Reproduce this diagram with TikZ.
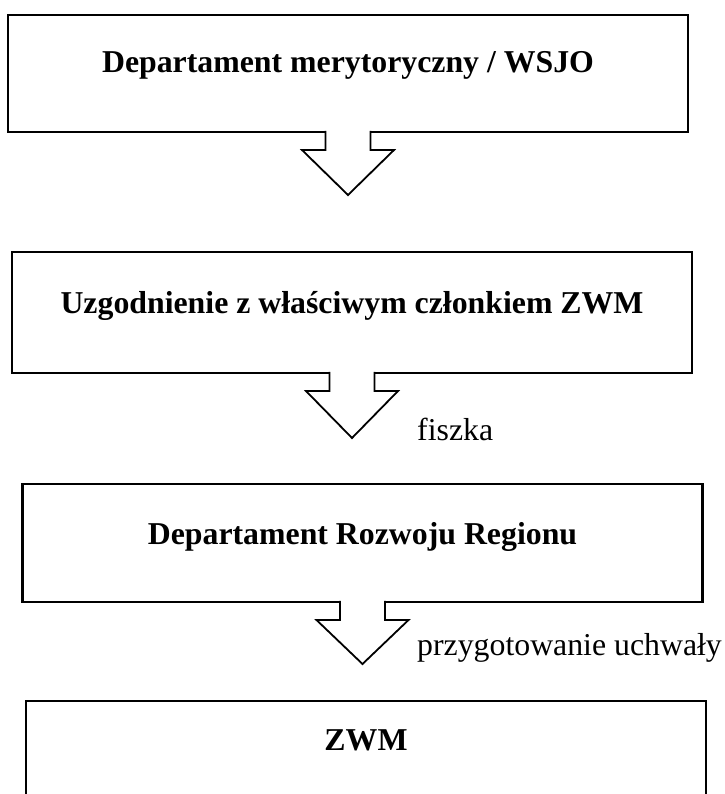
\documentclass[tikz,border=0pt]{standalone}
\usepackage{fontspec}
\setmainfont{Liberation Serif}
\usetikzlibrary{calc}

\begin{document}
\begin{tikzpicture}
  [x=1pt,y=-1pt,
   box/.style={draw,line width=2.2pt,rectangle,inner sep=0pt,outer sep=0pt,minimum width=680pt,text height=60pt,text depth=59pt,anchor=base,font=\fontsize{31.8}{38}\selectfont\bfseries},
   note/.style={anchor=base west,inner sep=0pt,font=\fontsize{31.8}{38}\selectfont},
   blockarrow/.style={draw,fill=white,line width=1.8pt,line join=miter,
     to path={($(\tikztostart)+(-22.5,-1.1)$) -- ++(0,19.1) -- ++(-23.5,0) -- (\tikztotarget) -- ($(\tikztostart)+(46,18)$) -- ++(-23.5,0) -- ++(0,-19.1)}},]

\path[use as bounding box,clip] (0,0) rectangle (724,794);

\node[box,text height=58pt] (b1) at (348,73) {Departament merytoryczny / WSJO};
\node[box,text height=61pt,text depth=60pt] (b2) at (352,313) {Uzgodnienie z właściwym członkiem ZWM};
\node[box,text depth=58pt] (b3) at (362.5,544) {Departament Rozwoju Regionu};
\node[box,text height=49pt,text depth=100pt] (b4) at (366,750) {ZWM};

\coordinate (t1) at ($(b1.south)+(0,63)$);
\coordinate (t2) at ($(b2.south)+(0,65)$);
\coordinate (t3) at ($(b3.south)+(0,62)$);

\foreach \a/\b in {b1/t1,b2/t2,b3/t3}
\draw[blockarrow] (\a.south) to (\b);

\node[note] (fiszka) at (417,440) {fiszka};
\node[note] (uchwala) at (417,655) {przygotowanie uchwały};

  \end{tikzpicture}
\end{document}
